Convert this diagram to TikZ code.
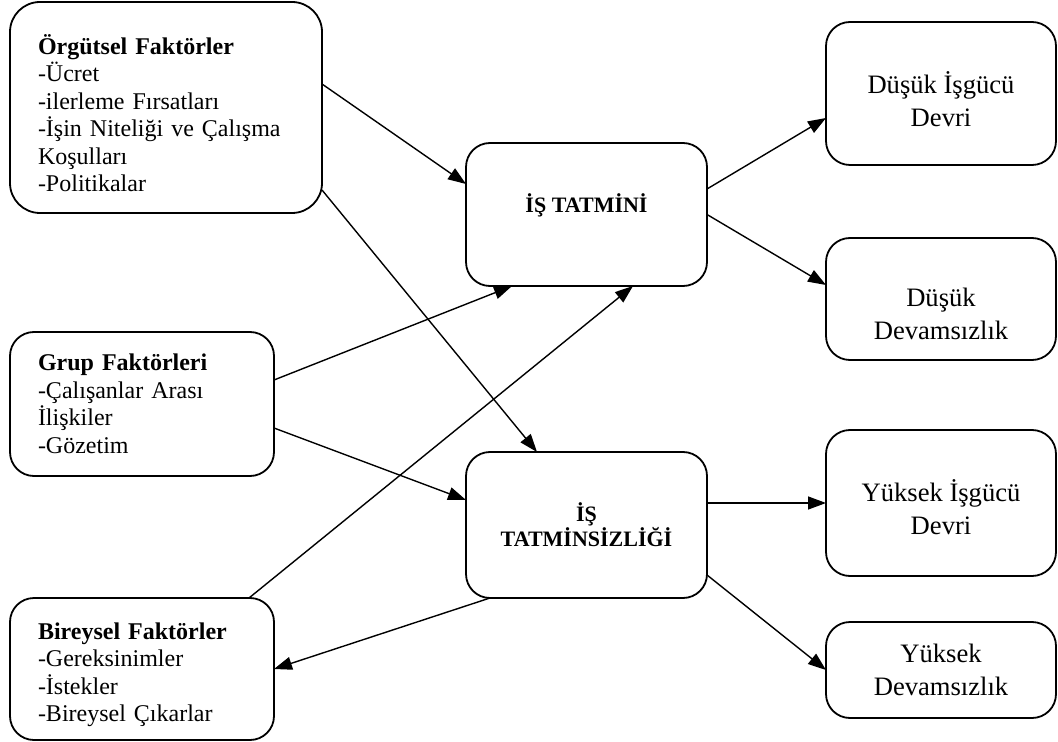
\documentclass[tikz,border=0pt]{standalone}
\usepackage{fontspec}
\setmainfont{Liberation Serif}
\usepackage{tikz}
\usetikzlibrary{arrows.meta}

\begin{document}
\begin{tikzpicture}[x=0.5pt, y=-0.5pt,
    box/.style={draw, line width=0.9pt, rounded corners=12pt, inner sep=0pt, outer sep=0pt},
    leftbox/.style={box, align=left, inner xsep=14pt, font=\fontsize{12}{13.75}\selectfont},
    midbox/.style={box, align=center, minimum width=120.5pt, font=\fontsize{11}{12.5}\selectfont\bfseries},
    outbox/.style={box, align=center, minimum width=115pt, font=\fontsize{13.3}{16.5}\selectfont},
    link/.style={-{Triangle[length=9pt, width=6.5pt]}, line width=0.7pt}]
    \useasboundingbox (0,0) rectangle (1058,742);

    % factors on the left
    \node[leftbox, text width=128pt, minimum height=105.5pt, rounded corners=15pt] (orgf) at (166,107.5)
        {\rule{0pt}{15.8pt}\textbf{Örgütsel Faktörler}\\-Ücret\\-ilerleme Fırsatları\\-İşin Niteliği ve Çalışma\\Koşulları\\-Politikalar};
    \node[leftbox, text width=104pt, minimum height=72pt] (grpf) at (142,404)
        {\textbf{Grup Faktörleri}\\-Çalışanlar Arası\\İlişkiler\\-Gözetim};
    \node[leftbox, text width=104pt, minimum height=71pt] (bryf) at (142,669)
        {\rule{0pt}{14pt}\textbf{Bireysel Faktörler}\\-Gereksinimler\\-İstekler\\-Bireysel Çıkarlar};

    % middle
    \node[midbox, minimum height=71.5pt] (tatm) at (586.5,214.5) {İŞ TATMİNİ\rule[-11.5pt]{0pt}{11.5pt}};
    \node[midbox, minimum height=73pt] (tsiz) at (586.5,525) {İŞ\\TATMİNSİZLİĞİ};

    % results on the right
    \node[outbox, minimum height=71.5pt] (ddevir) at (941,93.5) {\rule{0pt}{17pt}Düşük İşgücü\\Devri};
    \node[outbox, minimum height=61pt] (ddevam) at (941,299) {\rule{0pt}{24.5pt}Düşük\\Devamsızlık};
    \node[outbox, minimum height=73pt] (ydevir) at (941,503) {\rule{0pt}{15pt}Yüksek İşgücü\\Devri};
    \node[outbox, minimum height=48pt] (ydevam) at (941,670) {Yüksek\\Devamsızlık};

    \draw[link] ([yshift=11.75pt]orgf.east) -- ([yshift=15.25pt]tatm.west);
    \draw[link] ([yshift=11.5pt]orgf.south east) -- ([xshift=-24.75pt]tsiz.north);
    \draw[link] ([yshift=12pt]grpf.east) -- ([xshift=-37.25pt]tatm.south);
    \draw[link] ([yshift=-12pt]grpf.east) -- ([yshift=12.5pt]tsiz.west);
    \draw[link] ([xshift=53.5pt]bryf.north) -- ([xshift=23.25pt]tatm.south);
    \draw[link] ([xshift=-48.25pt]tsiz.south) -- (bryf.east);
    \draw[link] ([yshift=12.75pt]tatm.east) -- ([yshift=-12.25pt]ddevir.west);
    \draw[link] (tatm.east) -- ([yshift=7pt]ddevam.west);
    \draw[link] (tsiz.east |- ydevir.west) -- (ydevir.west);
    \draw[link] ([yshift=-25pt]tsiz.east) -- (ydevam.west);
\end{tikzpicture}
\end{document}
